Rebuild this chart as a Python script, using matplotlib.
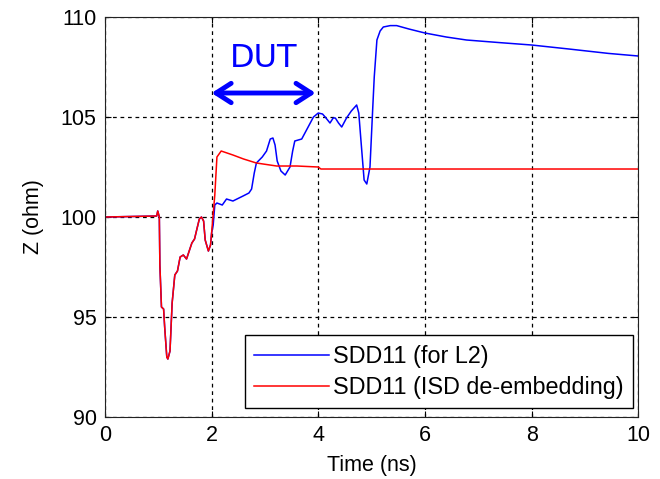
import matplotlib as mpl
import matplotlib.pyplot as plt

mpl.rcParams.update({
    "font.family": ["Liberation Sans", "DejaVu Sans"],
    "font.size": 15.5,
})

# shared launch / fixture section (both traces coincide up to ~2 ns)
t_common = [0.0, 0.97, 0.99, 1.02, 1.03, 1.06, 1.10, 1.12, 1.16, 1.18, 1.22,
            1.26, 1.31, 1.36, 1.41, 1.47, 1.53, 1.58, 1.63, 1.68, 1.72, 1.77,
            1.81, 1.85, 1.88, 1.94, 1.98, 2.00]
z_common = [100.0, 100.05, 100.3, 100.0, 97.6, 95.5, 95.4, 94.5, 93.0, 92.9, 93.3,
            95.7, 97.1, 97.3, 98.0, 98.1, 97.9, 98.3, 98.7, 98.9, 99.35, 99.9,
            100.0, 99.8, 98.85, 98.3, 98.6, 99.2]

# SDD11 (for L2)
t_l2 = [2.03, 2.06, 2.10, 2.20, 2.28, 2.40, 2.59, 2.70, 2.75, 2.80, 2.84, 2.95,
        3.03, 3.10, 3.15, 3.19, 3.23, 3.30, 3.38, 3.47, 3.52, 3.56, 3.69, 3.75,
        3.81, 3.91, 4.00, 4.08, 4.13, 4.22, 4.28, 4.32, 4.38, 4.44, 4.53, 4.62,
        4.72, 4.76, 4.80, 4.86, 4.91, 4.97, 5.02, 5.05, 5.10, 5.16, 5.22, 5.35,
        5.47, 5.70, 6.00, 6.40, 6.78, 7.40, 8.00, 8.70, 9.44, 10.0]
z_l2 = [99.6, 100.6, 100.7, 100.6, 100.9, 100.8, 101.05, 101.2, 101.4, 102.2, 102.7, 103.0,
        103.3, 103.9, 103.95, 103.6, 102.8, 102.3, 102.1, 102.5, 103.3, 103.8, 103.9, 104.2,
        104.5, 105.0, 105.2, 105.15, 105.0, 104.7, 104.95, 104.95, 104.7, 104.5, 104.95, 105.3,
        105.6, 105.2, 103.85, 101.85, 101.65, 102.5, 105.35, 107.0, 108.85, 109.3, 109.5, 109.57,
        109.57, 109.4, 109.2, 109.0, 108.85, 108.72, 108.6, 108.4, 108.18, 108.05]

# SDD11 (ISD de-embedding)
t_isd = [2.06, 2.10, 2.18, 2.40, 2.60, 2.84, 3.22, 3.60, 4.00, 4.05, 10.0]
z_isd = [101.1, 103.0, 103.3, 103.1, 102.9, 102.7, 102.55, 102.55, 102.5, 102.4, 102.4]

fig = plt.figure(figsize=(6.6, 4.79), dpi=100)
ax = fig.add_axes([0.159, 0.1294, 0.808, 0.8351])

ax.plot(t_common + t_l2, z_common + z_l2, color="#0000ff", linewidth=1.1,
        label="SDD11 (for L2)")
ax.plot(t_common + t_isd, z_common + z_isd, color="#ff0000", linewidth=1.1,
        label="SDD11 (ISD de-embedding)")

ax.set_xlim(0, 10)
ax.set_ylim(90, 110)
ax.set_xticks([0, 2, 4, 6, 8, 10])
ax.set_yticks([90, 95, 100, 105, 110])
ax.grid(True, color="black", linestyle=(0, (3, 3)), linewidth=0.9)
ax.tick_params(direction="in", top=True, right=True, length=4, pad=6)
for s in ax.spines.values():
    s.set_color("#222222")
ax.set_xlabel("Time (ns)", labelpad=6)
ax.set_ylabel("Z (ohm)", labelpad=12)

# DUT span marker
ax.annotate("", xy=(2.0, 106.2), xytext=(3.95, 106.2),
            arrowprops=dict(arrowstyle="<->,head_length=0.7,head_width=0.45",
                            color="#0000ff", lw=3.5, shrinkA=0, shrinkB=0))
ax.text(2.97, 107.95, "DUT", color="#0000ff", fontsize=23, ha="center", va="center",
        family=["DejaVu Sans"])

leg = ax.legend(loc="lower right", bbox_to_anchor=(0.991, 0.022), borderaxespad=0,
                fontsize=16.8, handlelength=3.2, handletextpad=0.2, fancybox=False,
                framealpha=1, edgecolor="black", labelspacing=0.35, borderpad=0.4)
leg.get_frame().set_linewidth(1.0)

fig.savefig("out.png", dpi=100)
